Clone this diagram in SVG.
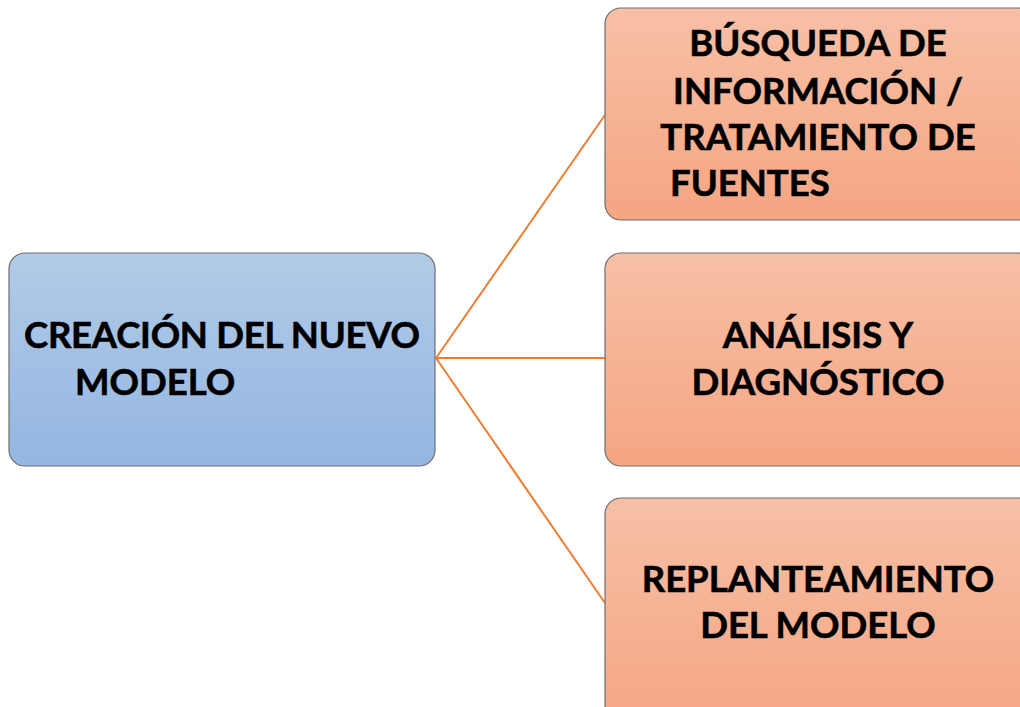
<svg xmlns="http://www.w3.org/2000/svg" width="1020" height="707" viewBox="0 0 1020 707">
<defs>
<linearGradient id="gBlue" x1="0" y1="0" x2="0" y2="1"><stop offset="0" stop-color="#b2cbe7"/><stop offset="1" stop-color="#94b6e2"/></linearGradient>
<linearGradient id="gOr" x1="0" y1="0" x2="0" y2="1"><stop offset="0" stop-color="#f7c0a6"/><stop offset="1" stop-color="#f5a582"/></linearGradient>
</defs>
<style>
.box{stroke:#6e6e6e;stroke-width:1.2}
.t{font-family:Lato,"Liberation Sans",sans-serif;font-weight:700;font-size:36.5px;fill:#000;stroke:#000;stroke-width:0.6}
.c{text-anchor:middle}
.ln{stroke:#ed7d31;stroke-width:2;fill:none}
</style>
<rect width="1020" height="707" fill="#fff"/>
<g id="connectors">
<line class="ln" x1="436" y1="358" x2="605" y2="115"/>
<line class="ln" x1="436" y1="358" x2="605" y2="358"/>
<line class="ln" x1="436" y1="358" x2="605" y2="603"/>
</g>
<g id="n-creacion">
<rect class="box" x="9" y="253" width="426" height="213" rx="16" fill="url(#gBlue)"/>
<text class="t" x="24" y="348" textLength="396">CREACIÓN DEL NUEVO</text>
<text class="t" x="75" y="395">MODELO</text>
</g>
<g id="n-busqueda">
<rect class="box" x="605" y="8" width="430" height="212" rx="16" fill="url(#gOr)"/>
<text class="t c" x="818" y="56">BÚSQUEDA DE</text>
<text class="t c" x="818" y="104">INFORMACIÓN /</text>
<text class="t c" x="818" y="150">TRATAMIENTO DE</text>
<text class="t" x="670" y="196">FUENTES</text>
</g>
<g id="n-analisis">
<rect class="box" x="605" y="253" width="430" height="213" rx="16" fill="url(#gOr)"/>
<text class="t c" x="818" y="348">ANÁLISIS Y</text>
<text class="t c" x="818" y="395">DIAGNÓSTICO</text>
</g>
<g id="n-replanteamiento">
<rect class="box" x="605" y="498" width="430" height="230" rx="16" fill="url(#gOr)"/>
<text class="t c" x="818" y="592">REPLANTEAMIENTO</text>
<text class="t c" x="818" y="638">DEL MODELO</text>
</g>
</svg>
